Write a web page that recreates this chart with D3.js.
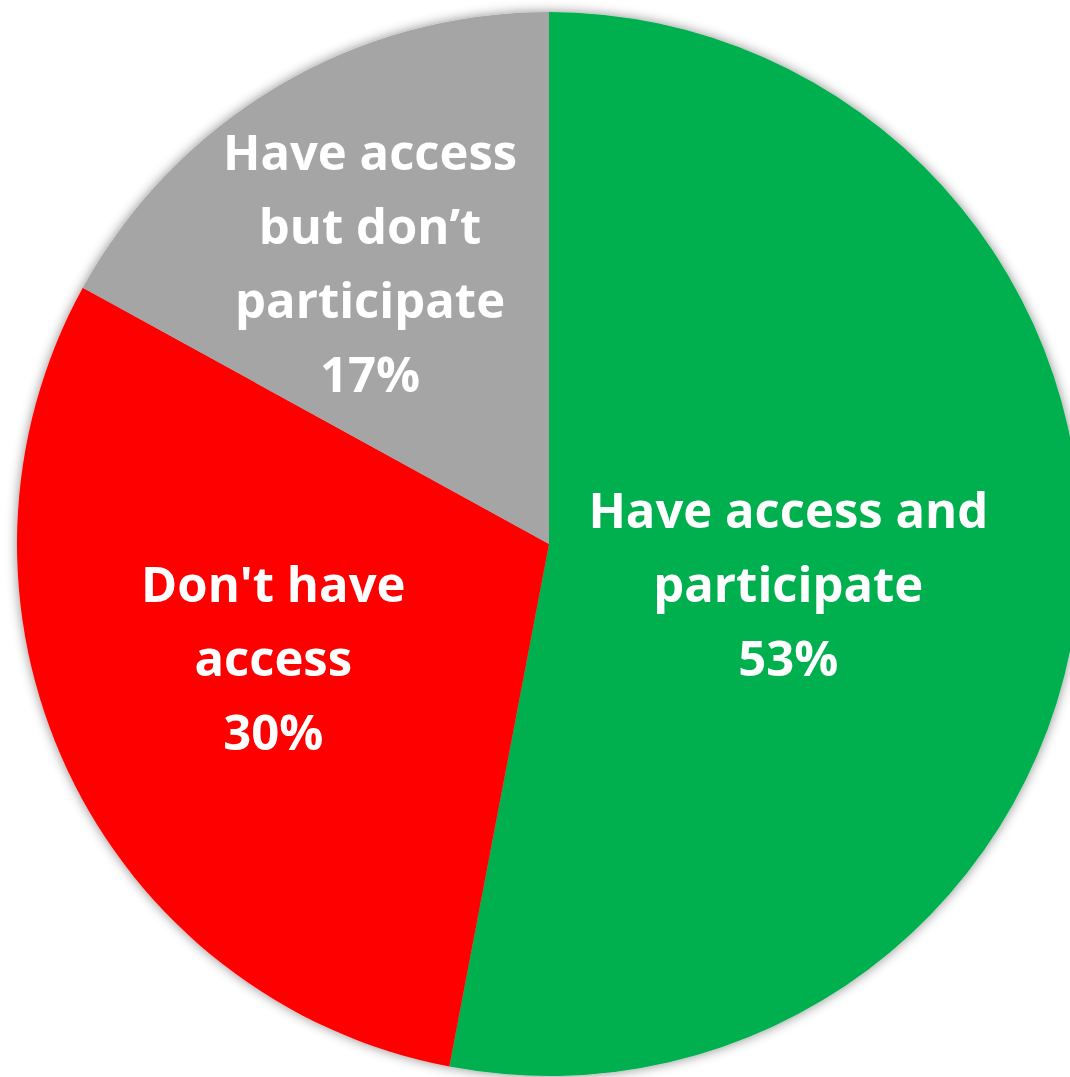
<!DOCTYPE html>
<html>
<head>
<meta charset="utf-8">
<script src="https://cdn.jsdelivr.net/npm/d3@7"></script>
<style>
  html, body { margin: 0; padding: 0; background: #fff; }
  svg { display: block; }
</style>
</head>
<body>
<script>
// data
var categories = ["Have access and participate", "Don't have access", "Have access but don\u2019t participate"];
var values = [53, 30, 17];
var labelLines = [
  ["Have access and", "participate", "53%"],
  ["Don't have", "access", "30%"],
  ["Have access", "but don\u2019t", "participate", "17%"]
];
var colors = ["#00B050", "#FF0000", "#A5A5A5"];

// layout
var width = 1070, height = 1077;
var cx = 549, cy = 544, radius = 532;
var labelNudge = [[-52, 13], [-11, -10], [-30, -29]];
var fontSize = 49, lineHeight = 74;

var svg = d3.select("body").append("svg").attr("width", width).attr("height", height);

var defs = svg.append("defs");
var filter = defs.append("filter").attr("id", "shadow")
  .attr("x", "-10%").attr("y", "-10%").attr("width", "120%").attr("height", "120%");
filter.append("feDropShadow").attr("dx", 0).attr("dy", 0)
  .attr("stdDeviation", 6).attr("flood-color", "#000").attr("flood-opacity", 0.45);

var pie = d3.pie().sort(null).value(function(d) { return d; });
var arcs = pie(values);
var arc = d3.arc().innerRadius(0).outerRadius(radius);
var labelArc = d3.arc().innerRadius(radius * 0.55).outerRadius(radius * 0.55);

var g = svg.append("g").attr("transform", "translate(" + cx + "," + cy + ")");

var slices = g.append("g").attr("filter", "url(#shadow)");
slices.selectAll("path").data(arcs).enter().append("path")
  .attr("d", arc)
  .attr("fill", function(d, i) { return colors[i]; });

// labels
arcs.forEach(function(d, i) {
  var c = labelArc.centroid(d);
  var x = c[0] + labelNudge[i][0], y = c[1] + labelNudge[i][1];
  var lines = labelLines[i];
  var firstBaseline = y - (lines.length - 1) * lineHeight / 2 + fontSize * 0.36;
  var t = g.append("text")
    .attr("text-anchor", "middle")
    .attr("fill", "#fff")
    .attr("font-family", "'Open Sans', sans-serif")
    .attr("font-weight", "bold")
    .attr("font-size", fontSize)
    .style("font-variant-ligatures", "none");
  lines.forEach(function(line, j) {
    t.append("tspan").attr("x", x).attr("y", firstBaseline + j * lineHeight).text(line);
  });
});
</script>
</body>
</html>
